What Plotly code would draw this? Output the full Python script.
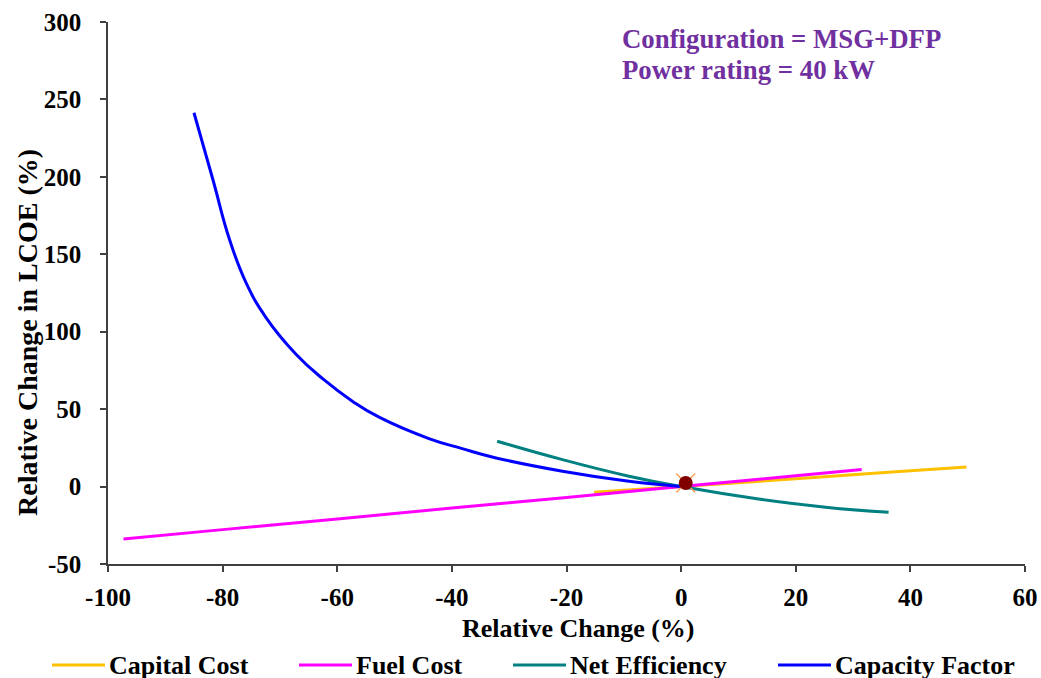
import plotly.graph_objects as go

# ---- data ----
cap_cost_x = [-15.2, 0.0, 20.0, 40.0, 49.8]
cap_cost_y = [-3.7, 0.0, 5.1, 10.2, 12.7]

fuel_cost_x = [-97.3, -80.0, -60.0, -40.0, -20.0, 0.0, 20.0, 31.5]
fuel_cost_y = [-33.8, -27.8, -20.9, -13.9, -7.0, 0.0, 7.0, 11.0]

net_eff_x = [-32.1, -20.7, -9.1, 0.0, 13.5, 25.2, 36.2]
net_eff_y = [29.3, 17.4, 6.7, 0.0, -8.0, -13.3, -16.6]

cap_factor_x = [-85.0, -81.7, -78.8, -75.9, -72.4, -67.2, -62.5, -57.3, -52.7, -44.0, -38.2, -32.3, -20.7, -9.1, 0.0]
cap_factor_y = [241.4, 198.3, 159.6, 131.6, 109.0, 85.5, 69.5, 55.0, 44.8, 31.0, 24.5, 18.5, 9.9, 3.4, 0.0]

base_x = [0.8]
base_y = [2.3]

series_names = ["Capital Cost", "Fuel Cost", "Net Efficiency", "Capacity Factor"]
series_colors = ["#FFC000", "#FF00FF", "#008080", "#0000FF"]

x_ticks = [-100, -80, -60, -40, -20, 0, 20, 40, 60]
x_tick_labels = ["-100", "-80", "-60", "-40", "-20", "0", "20", "40", "60"]
y_ticks = [-50, 0, 50, 100, 150, 200, 250, 300]
y_tick_labels = ["-50", "0", "50", "100", "150", "200", "250", "300"]

# legend layout (pixel positions of the sample line starts)
legend_px = [52, 299, 513, 778]
LEG_LINE = 53
LEG_GAP = 2
LEG_Y_PX = 665

FONT = "Liberation Serif"
AX = "#404040"
L, R, T, B = 108, 16, 22, 114
W, H = 1041, 678
PW, PH = W - L - R, H - T - B


def px_to_paper_x(px):
    return (px - L) / PW


def px_to_paper_y(py):
    return (H - B - py) / PH


fig = go.Figure()
data = [(cap_cost_x, cap_cost_y), (fuel_cost_x, fuel_cost_y),
        (net_eff_x, net_eff_y), (cap_factor_x, cap_factor_y)]
for (xs, ys), name, col in zip(data, series_names, series_colors):
    fig.add_trace(go.Scatter(
        x=xs, y=ys, mode="lines", name=name, showlegend=False,
        line=dict(color=col, width=3, shape="spline", smoothing=1.3),
    ))

fig.add_trace(go.Scatter(x=base_x, y=base_y, mode="markers", showlegend=False,
                         marker=dict(symbol="x-thin-open", size=19,
                                     line=dict(color="#9E6B8A", width=1.5))))
fig.add_trace(go.Scatter(x=base_x, y=base_y, mode="markers", showlegend=False,
                         marker=dict(symbol="circle", size=14, color="#800000",
                                     line=dict(width=0))))

tickfont = dict(family=FONT, size=25, color="black", weight="bold")
fig.update_xaxes(range=[-100, 60], tickvals=x_ticks, ticktext=x_tick_labels,
                 showgrid=False, zeroline=False, automargin=False,
                 showline=True, linecolor=AX, linewidth=1.5, ticks="outside",
                 ticklen=6, tickcolor=AX, tickwidth=1.5, tickfont=tickfont,
                 ticklabelstandoff=4)
fig.update_yaxes(range=[-50, 300], tickvals=y_ticks, ticktext=y_tick_labels,
                 showgrid=False, zeroline=False, automargin=False,
                 showline=True, linecolor=AX, linewidth=1.5, ticks="outside",
                 ticklen=6, tickcolor=AX, tickwidth=1.5, tickfont=tickfont,
                 ticklabelstandoff=14)

titlefont = dict(family=FONT, size=26, color="black", weight="bold")
ytitlefont = dict(family=FONT, size=28, color="black", weight="bold")
purple = dict(family=FONT, size=26.8, color="#7030A0", weight="bold")
fig.add_annotation(text="Relative Change (%)", xref="paper", yref="paper",
                   x=px_to_paper_x(578), y=px_to_paper_y(628), showarrow=False,
                   font=titlefont, xanchor="center", yanchor="middle")
fig.add_annotation(text="Relative Change in LCOE (%)", xref="paper", yref="paper",
                   x=px_to_paper_x(27), y=px_to_paper_y(333), showarrow=False,
                   font=ytitlefont, textangle=-90, xanchor="center", yanchor="middle")
fig.add_annotation(text="Configuration = MSG+DFP", xref="paper", yref="paper",
                   x=px_to_paper_x(620), y=px_to_paper_y(39.5), showarrow=False,
                   font=purple, xanchor="left", yanchor="middle")
fig.add_annotation(text="Power rating = 40 kW", xref="paper", yref="paper",
                   x=px_to_paper_x(620), y=px_to_paper_y(70.5), showarrow=False,
                   font=purple, xanchor="left", yanchor="middle")

# legend drawn as line samples + labels below the x-axis title
for name, col, px in zip(series_names, series_colors, legend_px):
    fig.add_shape(type="line", xref="paper", yref="paper",
                  x0=px_to_paper_x(px), x1=px_to_paper_x(px + LEG_LINE),
                  y0=px_to_paper_y(LEG_Y_PX), y1=px_to_paper_y(LEG_Y_PX),
                  line=dict(color=col, width=3))
    fig.add_annotation(text=name, xref="paper", yref="paper",
                       x=px_to_paper_x(px + LEG_LINE + LEG_GAP), y=px_to_paper_y(LEG_Y_PX),
                       showarrow=False, font=titlefont, xanchor="left", yanchor="middle")

fig.update_layout(
    width=W, height=H,
    margin=dict(l=L, r=R, t=T, b=B),
    paper_bgcolor="white", plot_bgcolor="white",
    showlegend=False,
)

fig.write_html("out.html")
